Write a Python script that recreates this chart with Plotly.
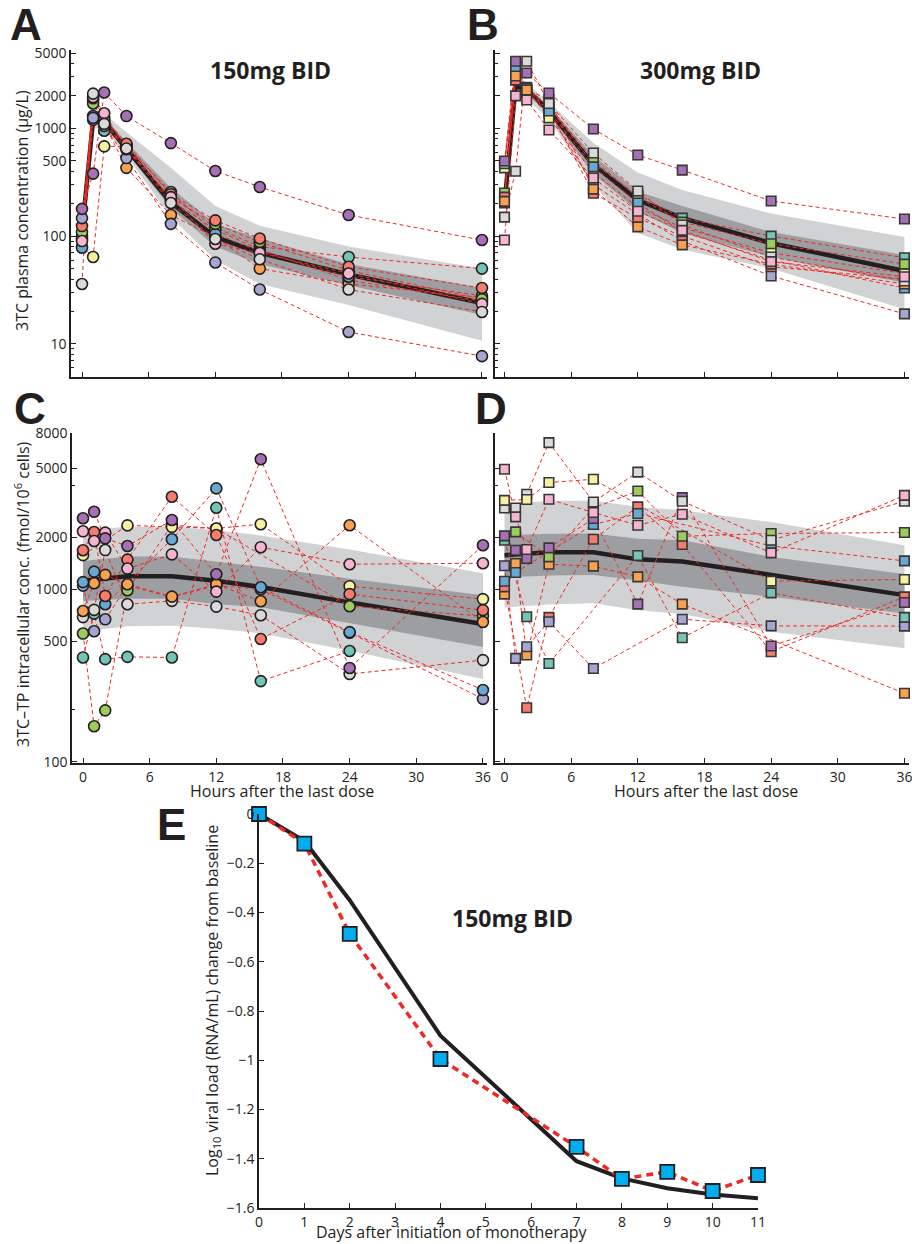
import plotly.graph_objects as go

W, H = 912, 1244
INK = "#231f20"
RED = "#ee2a24"
LIGHT = "#d1d2d4"
DARK = "#9c9ea1"
FONT = "Open Sans"

# ---------------- data ----------------
TIMES = [0, 1, 2, 4, 8, 12, 16, 24, 36]
BAND_T_AB = [1, 2, 4, 8, 12, 16, 24, 36]
BAND_T_CD = [0, 4, 8, 12, 16, 24, 36]

PATIENT_COLORS = {
    "teal": "#73c6b6", "yellow": "#f5f2a1", "lavender": "#a7a6d3",
    "salmon": "#f47d6e", "blue": "#67a9d3", "orange": "#f8a251",
    "green": "#9acd5e", "pink": "#f5b5d1", "grey": "#dadada",
    "purple": "#a671b4",
}

# Panel A: 3TC plasma, 150mg BID (ug/L)
A_CONC = {
    "teal":     [95, 1200, 950, 700, 240, 120, 80, 64, 50],
    "yellow":   [80, 64, 680, 680, 215, 115, 75, 39, 25],
    "orange":   [100, 1800, 1100, 430, 157, 98, 50, 36, 27],
    "blue":     [78, 1300, 1200, 690, 257, 105, 72, 42, 28],
    "green":    [109, 1700, 1150, 660, 225, 130, 88, 48, 26],
    "salmon":   [124, 1900, 1250, 720, 245, 140, 95, 52, 33],
    "lavender": [147, 1250, 1050, 530, 130, 57, 32, 12.9, 7.7],
    "pink":     [90, 1950, 1380, 640, 230, 85, 70, 45, 23.5],
    "grey":     [36, 2100, 1100, 650, 203, 94, 61, 32, 19.8],
    "purple":   [179, 380, 2150, 1300, 730, 402, 286, 157, 92],
}
A_MEDIAN = [110, 1200, 1150, 655, 205, 98, 70, 44, 24]
A_LIGHT_HI = [1500, 1350, 920, 430, 190, 125, 80, 50]
A_LIGHT_LO = [1000, 1000, 560, 150, 60, 36, 23, 10.7]
A_DARK_HI = [1300, 1250, 750, 280, 130, 95, 55, 33]
A_DARK_LO = [1100, 1100, 600, 180, 80, 55, 35, 18.5]

# Panel B: 3TC plasma, 300mg BID (ug/L)
B_CONC = {
    "lavender": [480, 3700, 2200, 1390, 300, 160, 90, 42.7, 19],
    "yellow":   [430, 3800, 2300, 1250, 390, 185, 120, 70, 45],
    "teal":     [470, 3300, 2400, 1550, 470, 240, 147, 100, 63],
    "green":    [251, 3900, 2250, 1610, 509, 230, 135, 85, 55],
    "salmon":   [230, 2800, 2150, 1500, 250, 147, 100, 52, 40],
    "blue":     [203, 3700, 2350, 1450, 439, 203, 110, 60, 33],
    "orange":   [210, 3060, 2270, 1860, 273, 122, 83, 55, 36],
    "grey":     [150, 400, 4200, 1700, 590, 262, 127, 64, 38.4],
    "pink":     [92, 2000, 1830, 966, 346, 170, 113, 58, 42],
    "purple":   [498, 4200, 3260, 2130, 986, 566, 410, 212, 144],
}
B_MEDIAN = [200, 2450, 2300, 1450, 460, 216, 147, 86, 47.5]
B_LIGHT_HI = [3000, 2600, 1750, 730, 390, 268, 162, 98]
B_LIGHT_LO = [2000, 1900, 1200, 300, 107, 75, 50, 21]
B_DARK_HI = [2700, 2450, 1600, 560, 260, 190, 109, 67]
B_DARK_LO = [2300, 2100, 1350, 380, 170, 107, 64, 37]

# Panel C: 3TC-TP intracellular, 150mg BID (fmol/10^6 cells)
C_CONC = {
    "lavender": [1050, 571, 670, 1050, 900, 1050, 1000, 560, 232],
    "teal":     [403, 723, 394, 406, 403, 2966, 294, 439, None],
    "green":    [554, 161, 199, 987, 2355, 2243, None, 798, 700],
    "grey":     [690, 760, 1687, 819, 857, 794, 708, 323, 389],
    "orange":   [748, 1083, 1211, 1069, 907, 1069, 853, 2350, 646],
    "blue":     [1100, 1265, 819, None, 1947, 3839, 1028, 565, 261],
    "yellow":   [1576, None, None, 2344, 2300, 2250, 2382, 1042, 877],
    "salmon":   [1683, 2147, 915, 1485, 3436, 2062, 515, 937, 757],
    "pink":     [2166, 1905, 2128, 1318, 1593, 969, 1753, 1397, 1415],
    "purple":   [2577, 2813, 1972, 1780, 2518, 1221, 5662, 350, 1799],
}
C_MEDIAN = [1120, 1190, 1190, 1120, 1030, 840, 630]
C_LIGHT_HI = [2200, 2300, 2300, 2200, 2050, 1700, 1240]
C_LIGHT_LO = [570, 610, 615, 590, 557, 440, 302]
C_DARK_HI = [1460, 1550, 1550, 1450, 1350, 1150, 925]
C_DARK_LO = [856, 880, 880, 820, 788, 640, 463]

# Panel D: 3TC-TP intracellular, 300mg BID (fmol/10^6 cells)
D_CONC = {
    "orange":   [937, 1409, 416, 1396, 1361, 1180, 820, None, 250],
    "salmon":   [1033, None, 206, 688, 1949, 2999, 1816, 435, 904],
    "blue":     [1114, 1250, None, None, 2371, 2747, None, 1783, 1460],
    "lavender": [1368, 398, 465, 649, 348, None, 671, 614, 612],
    "green":    [None, 2149, None, 1540, 2958, 3706, 2028, 2104, 2132],
    "teal":     [1923, None, 693, 372, None, 1570, 524, 953, 688],
    "purple":   [2037, 1683, 1506, 1737, 2568, 820, 3396, 469, 839],
    "grey":     [2958, 2958, 3548, 7068, 3205, 4772, 3236, 1924, 3236],
    "yellow":   [3273, None, 3311, 4150, 4337, None, None, 1115, 1140],
    "pink":     [4955, 2626, 1698, 3321, 2782, 2350, 2722, 1624, 3500],
}
D_MEDIAN = [1574, 1640, 1640, 1490, 1450, 1208, 925]
D_LIGHT_HI = [3130, 3250, 3270, 3000, 2870, 2450, 1800]
D_LIGHT_LO = [785, 817, 830, 757, 720, 567, 455]
D_DARK_HI = [2055, 2100, 2104, 1960, 1923, 1540, 1224]
D_DARK_LO = [1170, 1200, 1208, 1123, 1033, 904, 724]

# Panel E: viral load change (log10 RNA/mL)
E_DAYS = [0, 1, 2, 4, 7, 8, 9, 10, 11]
E_OBSERVED = [0, -0.12, -0.487, -0.995, -1.352, -1.482, -1.453, -1.531, -1.466]
E_MODEL = [0, -0.11, -0.35, -0.90, -1.41, -1.48, -1.52, -1.545, -1.56]

HOUR_TICKS = [0, 6, 12, 18, 24, 30, 36]
A_YTICKS = [10, 100, 500, 1000, 2000, 5000]
C_YTICKS = [100, 500, 1000, 2000, 5000, 8000]
E_XTICKS = list(range(0, 12))
E_YTICKS = [0, -0.2, -0.4, -0.6, -0.8, -1.0, -1.2, -1.4, -1.6]

# ---------------- figure ----------------
fig = go.Figure()


def px_x(p):
    return p / W


def px_y(p):
    return 1 - p / H


def add_band(t, hi, lo, color, ax):
    fig.add_trace(go.Scatter(
        x=list(t) + list(t)[::-1], y=list(hi) + list(lo)[::-1],
        fill="toself", fillcolor=color, line=dict(width=0),
        mode="lines", hoverinfo="skip", showlegend=False,
        xaxis="x" + ax, yaxis="y" + ax))


def add_panel(ax, conc, median_t, median, bt, lhi, llo, dhi, dlo, symbol, msize):
    add_band(bt, lhi, llo, LIGHT, ax)
    add_band(bt, dhi, dlo, DARK, ax)
    fig.add_trace(go.Scatter(
        x=median_t, y=median, mode="lines",
        line=dict(color=INK, width=4.5), showlegend=False,
        xaxis="x" + ax, yaxis="y" + ax, cliponaxis=False))
    for name, vals in conc.items():
        fig.add_trace(go.Scatter(
            x=TIMES, y=vals, mode="lines", connectgaps=True,
            line=dict(color=RED, width=1, dash="4px,3px"),
            showlegend=False, xaxis="x" + ax, yaxis="y" + ax,
            cliponaxis=False))
    for name, vals in conc.items():
        fig.add_trace(go.Scatter(
            x=TIMES, y=vals, mode="markers",
            marker=dict(symbol=symbol, size=msize,
                        color=PATIENT_COLORS[name],
                        line=dict(color=INK if symbol == "circle" else "#3a3536",
                                  width=1.6)),
            showlegend=False, xaxis="x" + ax, yaxis="y" + ax,
            cliponaxis=False))


add_panel("", A_CONC, TIMES, A_MEDIAN, BAND_T_AB, A_LIGHT_HI, A_LIGHT_LO,
          A_DARK_HI, A_DARK_LO, "circle", 11)
add_panel("2", B_CONC, TIMES, B_MEDIAN, BAND_T_AB, B_LIGHT_HI, B_LIGHT_LO,
          B_DARK_HI, B_DARK_LO, "square", 9.5)
add_panel("3", C_CONC, BAND_T_CD, C_MEDIAN, BAND_T_CD, C_LIGHT_HI, C_LIGHT_LO,
          C_DARK_HI, C_DARK_LO, "circle", 11)
add_panel("4", D_CONC, BAND_T_CD, D_MEDIAN, BAND_T_CD, D_LIGHT_HI, D_LIGHT_LO,
          D_DARK_HI, D_DARK_LO, "square", 9.5)

# Panel E
fig.add_trace(go.Scatter(x=E_DAYS, y=E_MODEL, mode="lines",
                         line=dict(color=INK, width=4), showlegend=False,
                         xaxis="x5", yaxis="y5", cliponaxis=False))
fig.add_trace(go.Scatter(x=E_DAYS, y=E_OBSERVED, mode="lines",
                         line=dict(color=RED, width=3.5, dash="7px,5px"),
                         showlegend=False, xaxis="x5", yaxis="y5",
                         cliponaxis=False))
fig.add_trace(go.Scatter(x=E_DAYS, y=E_OBSERVED, mode="markers",
                         marker=dict(symbol="square", size=14, color="#00aeef",
                                     line=dict(color=INK, width=1.8)),
                         showlegend=False, xaxis="x5", yaxis="y5",
                         cliponaxis=False))

# ---------------- axes ----------------
TICKFONT = dict(family=FONT, size=14, color=INK)


def minor_log(lo_exp, hi_exp, majors, vmin, vmax):
    out = []
    for e in range(lo_exp, hi_exp + 1):
        for m in range(1, 10):
            v = m * 10 ** e
            if vmin <= v <= vmax and v not in majors:
                out.append(v)
    return out


A_MINOR = minor_log(0, 3, A_YTICKS, 5, 5000)
C_MINOR = [200, 4000]

common = dict(showline=True, linecolor=INK, linewidth=1.5, ticks="inside",
              ticklen=5, tickwidth=1.3, tickcolor=INK, showgrid=False,
              zeroline=False, tickfont=TICKFONT, automargin=False,
              ticklabeloverflow="allow")


def hour_axis(x0, x1, anchor, labels, xmin):
    span = (x1 - x0) / 11.11
    return dict(common, domain=[px_x(x0), px_x(x1)], anchor=anchor,
                range=[xmin, xmin + span], tickmode="array",
                tickvals=HOUR_TICKS, ticktext=[str(v) for v in HOUR_TICKS],
                showticklabels=labels)


def log_axis(y_top, y_bot, anchor, rng, ticks, minor, labels):
    return dict(common, domain=[px_y(y_bot), px_y(y_top)], anchor=anchor,
                type="log", range=rng, tickmode="array", tickvals=ticks,
                ticktext=[str(v) for v in ticks], showticklabels=labels,
                minor=dict(tickmode="array", tickvals=minor, ticks="inside",
                           ticklen=3, tickwidth=1, tickcolor=INK))


RANGE_AB = [0.693, 3.727]
RANGE_CD = [1.994, 3.905]

fig.update_layout(
    xaxis=hour_axis(71, 487, "y", False, -0.99),
    yaxis=log_axis(50, 377, "x", RANGE_AB, A_YTICKS, A_MINOR, True),
    xaxis2=hour_axis(495, 909, "y2", False, -0.855),
    yaxis2=log_axis(50, 377, "x2", RANGE_AB, A_YTICKS, A_MINOR, False),
    xaxis3=hour_axis(72, 487, "y3", True, -0.99),
    yaxis3=log_axis(433, 763, "x3", RANGE_CD, C_YTICKS, C_MINOR, True),
    xaxis4=hour_axis(495, 909, "y4", True, -0.855),
    yaxis4=log_axis(433, 763, "x4", RANGE_CD, C_YTICKS, C_MINOR, False),
    xaxis5=dict(common, domain=[px_x(259), px_x(758)], anchor="y5",
                range=[0, 11], tickmode="array", tickvals=E_XTICKS,
                ticktext=[str(v) for v in E_XTICKS]),
    yaxis5=dict(common, domain=[px_y(1208), px_y(814)], anchor="x5",
                range=[-1.6, 0], tickmode="array", tickvals=E_YTICKS,
                ticktext=["0" if v == 0 else ("\u2212%g" % abs(v)) for v in E_YTICKS]),
)

# ---------------- text ----------------
ann = []


def text(x, y, s, size, bold=False, angle=0, family=FONT):
    ann.append(dict(x=px_x(x), y=px_y(y), xref="paper", yref="paper",
                    text=("<b>%s</b>" % s) if bold else s, showarrow=False,
                    textangle=angle, xanchor="center", yanchor="middle",
                    font=dict(family=family, size=size, color=INK)))


for letter, x, y in [("A", 26, 25), ("B", 483, 25), ("C", 30, 408),
                     ("D", 491, 408), ("E", 171, 824)]:
    text(x, y, letter, 44, bold=True, family="Liberation Sans")

text(270, 70, "150mg BID", 23, bold=True)
text(700, 70, "300mg BID", 23, bold=True)
text(512, 918, "150mg BID", 23, bold=True)

text(22, 211, "3TC plasma concentration (\u03bcg/L)", 16, angle=-90)
text(22, 594, "3TC\u2013TP intracellular conc. (fmol/10<sup>6</sup> cells)", 16, angle=-90)
text(212, 1001, "Log<sub>10</sub> viral load (RNA/mL) change from baseline", 16, angle=-90)

text(282, 791, "Hours after the last dose", 16)
text(706, 791, "Hours after the last dose", 16)
text(452, 1232, "Days after initiation of monotherapy", 16)

fig.update_layout(
    width=W, height=H, margin=dict(l=0, r=0, t=0, b=0, autoexpand=False),
    paper_bgcolor="white", plot_bgcolor="white",
    annotations=ann, showlegend=False,
)

fig.write_html(
    "out.html",
    config={"displayModeBar": False},
    post_script="document.body.style.margin='0';document.body.style.padding='0';",
)
